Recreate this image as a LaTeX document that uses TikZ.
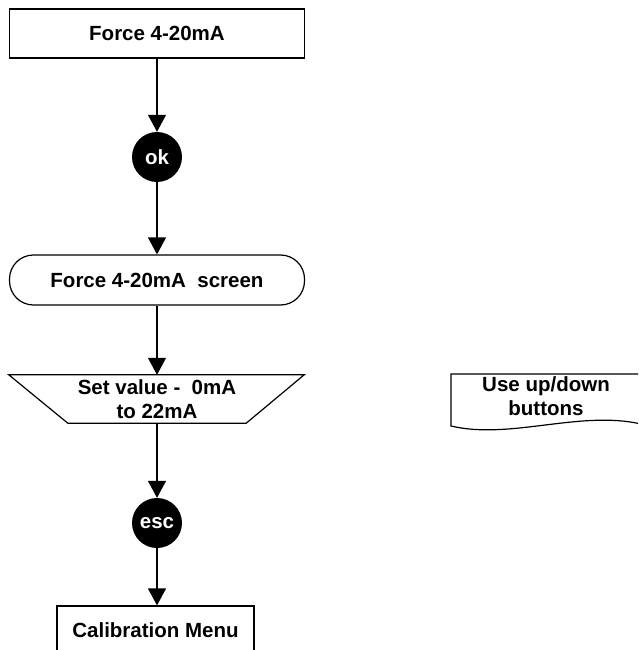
\documentclass[tikz,border=0pt]{standalone}
\usepackage{fontspec}
\setmainfont{Liberation Sans}
\usetikzlibrary{arrows.meta}

\begin{document}
\begin{tikzpicture}[x=1pt, y=-1pt,
    every node/.style={font=\bfseries\fontsize{20.5}{24}\selectfont},
    box/.style={draw, line width=1.2pt, minimum height=49pt},
    key/.style={circle, fill=black, text=white, minimum size=50pt, inner sep=0pt},
    flow/.style={-{Triangle[width=18pt, length=17pt]}, line width=1.2pt}]

% Cadre
\useasboundingbox (0,0) rectangle (638,650);
\clip (0,0) rectangle (638,650);

% Etapes
\node[box, minimum width=295pt] (force) at (157,33.5) {Force 4-20mA};
\node[key] (ok) at (157,157) {ok};
\node[box, rounded corners=24pt, minimum width=295pt, minimum height=50pt] (screen) at (157,280) {Force 4-20mA\ \ screen};
\node[minimum width=178pt, minimum height=48pt, inner sep=0pt, align=center] (setval) at (157,399) {Set value -\ \ 0mA\\to 22mA};
\draw[line width=1.2pt] ([xshift=-59pt]setval.north west) -- ([xshift=58pt]setval.north east)
    -- (setval.south east) -- (setval.south west) -- cycle;
\node[key] (esc) at (157,523) {esc};
\node[box, minimum width=197pt] (calib) at (155.5,630.5) {Calibration Menu};

% Fleches
\draw[flow] (force) -- (ok);
\draw[flow] (ok) -- (screen);
\draw[flow] (screen) -- (setval);
\draw[flow] (setval) -- (esc);
\draw[flow] (esc) -- (esc |- calib.north);

% Note
\node[align=center] (hint) at (546,396) {Use up/down\\buttons};
\draw[line width=1.2pt] (641,374) -- (451,374) -- (451,426)
    .. controls (510,440) and (580,410) .. (641,424);

\end{tikzpicture}
\end{document}
